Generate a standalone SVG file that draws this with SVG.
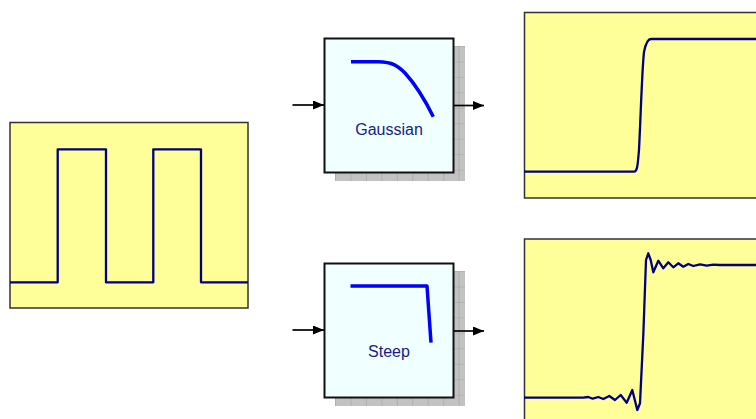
<svg xmlns="http://www.w3.org/2000/svg" width="756" height="419" viewBox="0 0 756 419">
<style>
.scope{fill:#ffff99;stroke:#333333;stroke-width:1.5}
.wave{fill:none;stroke:#000080;stroke-width:2.3;stroke-linejoin:round}
.filter{fill:#f0ffff;stroke:#111111;stroke-width:2}
.resp{fill:none;stroke:#0000ff;stroke-width:3.5;stroke-linecap:butt;stroke-linejoin:round}
.lbl{font-family:"Liberation Sans",Arial,sans-serif;font-size:16px;fill:#1a1a8c;text-anchor:middle}
.conn{stroke:#000000;stroke-width:1.7;fill:none}
</style>
<defs>
<marker id="ah" viewBox="0 0 11 9" refX="11" refY="4.5" markerWidth="11" markerHeight="9" markerUnits="userSpaceOnUse" orient="auto">
<path d="M0,0 L11,4.5 L0,9 Z" fill="#000000"/>
</marker>
<pattern id="gridpat" patternUnits="userSpaceOnUse" x="350.5" y="61.5" width="15.45" height="15.45">
<rect width="15.45" height="15.45" fill="#c2c2c2"/>
<path d="M0,0 V15.45 M0,0 H15.45" stroke="#a4a4a4" stroke-width="1.2"/>
</pattern>
<pattern id="gridpat2" patternUnits="userSpaceOnUse" x="350.5" y="286.5" width="15.45" height="15.45">
<rect width="15.45" height="15.45" fill="#c2c2c2"/>
<path d="M0,0 V15.45 M0,0 H15.45" stroke="#a4a4a4" stroke-width="1.2"/>
</pattern>
</defs>

<g id="input-signal">
<rect class="scope" x="10" y="122.5" width="238" height="185.5"/>
<path class="wave" d="M10,282.3 H57.7 V149.3 H106 V282.3 H153.3 V149.3 H201 V282.3 H248"/>
</g>

<g id="gaussian-filter">
<rect x="335" y="46" width="130" height="135" fill="url(#gridpat)"/>
<rect class="filter" x="324.5" y="38.5" width="129" height="134"/>
<path class="resp" d="M351,61.8 L378,61.8 C393,62 398,66 405,73 C415,84 424,98 433.3,116.7"/>
<text class="lbl" x="389" y="134.5">Gaussian</text>
</g>

<g id="steep-filter">
<rect x="335" y="271" width="130" height="135" fill="url(#gridpat2)"/>
<rect class="filter" x="324.5" y="263.5" width="129" height="134"/>
<path class="resp" d="M350.5,286 H427 L431,342.7"/>
<text class="lbl" x="389" y="357">Steep</text>
</g>

<g id="gaussian-output">
<rect class="scope" x="524.5" y="12.5" width="240" height="185.5"/>
<path class="wave" d="M524,171.7 H634 C637,171.7 637.5,168 639,150 C641,110 642,70 644,52 C646,42 648,39 651,39 H756"/>
</g>

<g id="steep-output">
<rect class="scope" x="524.5" y="239" width="240" height="190"/>
<path class="wave" d="M524,397.7 H583.3 L588.3,397 L592.7,398.7 L598.3,397 L603.3,399 L609.3,396 L615,400 L620.7,395 L626.7,402.7 L632.3,390 L637.3,410 L640,403.3 L643.3,335 L646,260 L648.3,253.3 L650.7,260 L653.3,272.3 L658.3,260.7 L663.3,268.3 L668.3,262.3 L673.3,267.3 L678.3,263.3 L683.3,266.7 L688.3,264 L693.3,266 L700,264.3 L706.7,265.7 L713.3,264.7 L720,265 H756"/>
</g>

<g id="connectors">
<line class="conn" x1="292.5" y1="105" x2="324" y2="105" marker-end="url(#ah)"/>
<line class="conn" x1="454" y1="105.5" x2="484" y2="105.5" marker-end="url(#ah)"/>
<line class="conn" x1="292.5" y1="330" x2="324" y2="330" marker-end="url(#ah)"/>
<line class="conn" x1="454" y1="331" x2="484" y2="331" marker-end="url(#ah)"/>
</g>
</svg>
